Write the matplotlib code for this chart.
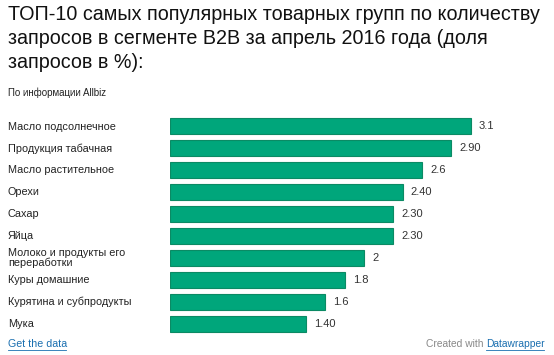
import matplotlib
matplotlib.use('Agg')
from matplotlib import pyplot as plt

plt.rcParams['font.family'] = ['Liberation Sans', 'DejaVu Sans']

categories = ['Масло подсолнечное', 'Продукция табачная', 'Масло растительное', 'Орехи',
              'Сахар', 'Яйца', 'Молоко и продукты его\nпереработки', 'Куры домашние',
              'Курятина и субпродукты', 'Мука']
values = [3.1, 2.9, 2.6, 2.4, 2.3, 2.3, 2.0, 1.8, 1.6, 1.4]
value_labels = ['3.1', '2.90', '2.6', '2.40', '2.30', '2.30', '2', '1.8', '1.6', '1.40']

W, H = 554, 355
fig = plt.figure(figsize=(W / 100, H / 100), dpi=100)
fig.patch.set_facecolor('white')

# axes placed in pixel units: bars start at x=170, ~97 px per unit
left, right = 170, 540
top, bottom = 115, 334.5
ax = fig.add_axes([left / W, 1 - bottom / H, (right - left) / W, (bottom - top) / H])
ax.set_xlim(0, (right - left) / 97)
ax.set_ylim(len(categories) - 0.5, -0.5)
ax.axis('off')

ypos = list(range(len(categories)))
ax.barh(ypos, values, height=0.73, color='#00a67b', edgecolor='#0b8a64', linewidth=0.8)
for y, v, lab in zip(ypos, values, value_labels):
    ax.text(v + 8 / 97, y, lab, va='center', ha='left', fontsize=8, color='#333333')

for y, cat in zip(ypos, categories):
    ax.text(8 / W, 1 - (126.5 + 21.93 * y) / H, cat, transform=fig.transFigure,
            va='center', ha='left', fontsize=7.8, color='#222222', linespacing=0.95)

title_lines = ['ТОП-10 самых популярных товарных групп по количеству',
               'запросов в сегменте B2B за апрель 2016 года (доля',
               'запросов в %):']
for i, line in enumerate(title_lines):
    fig.text(8 / W, 1 - (15 + 24 * i) / H, line, va='center', ha='left',
             fontsize=14.2, color='#111111')
fig.text(8 / W, 1 - 93 / H, 'По информации Allbiz', va='center', ha='left',
         fontsize=7, color='#222222')

fig.text(8 / W, 1 - 344 / H, 'Get the data', va='center', ha='left',
         fontsize=7.7, color='#1a6fb0')
fig.add_artist(plt.Line2D([8 / W, 66 / W], [1 - 350 / H, 1 - 350 / H],
                          color='#1a6fb0', linewidth=0.6))
fig.text(486 / W, 1 - 344 / H, 'Datawrapper', va='center', ha='left',
         fontsize=7.4, color='#1a6fb0')
fig.add_artist(plt.Line2D([486 / W, 544 / W], [1 - 350 / H, 1 - 350 / H],
                          color='#1a6fb0', linewidth=0.6))
fig.text(483 / W, 1 - 344 / H, 'Created with', va='center', ha='right',
         fontsize=7.4, color='#888888')

fig.savefig('out.png', dpi=100, facecolor='white')
